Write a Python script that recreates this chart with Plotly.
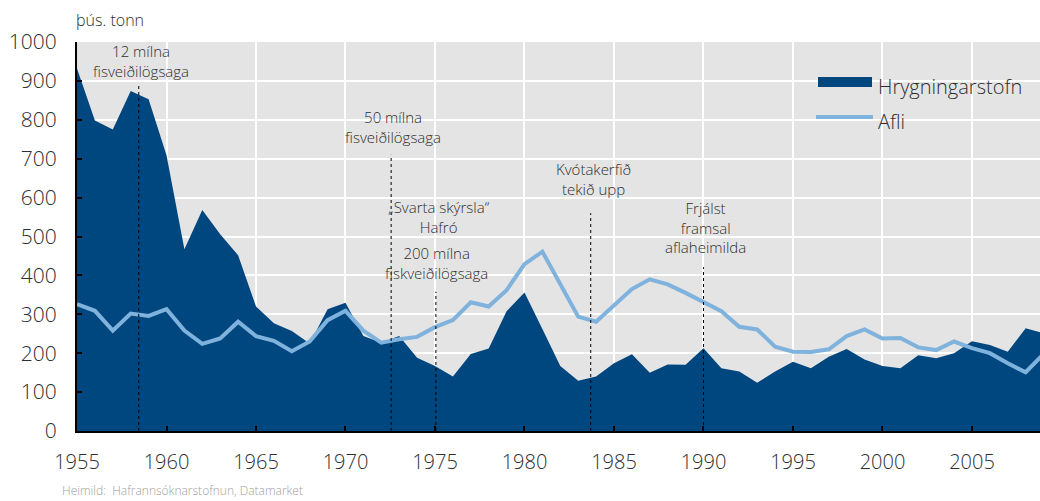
import plotly.graph_objects as go

years = list(range(1955, 2010))

hrygningarstofn = [932, 798, 775, 874, 853, 709, 467, 568, 506, 452,
                   320, 277, 257, 225, 313, 330, 244, 227, 244, 188,
                   167, 140, 198, 212, 308, 356, 262, 167, 129, 140,
                   174, 197, 150, 171, 170, 213, 161, 153, 124, 153,
                   178, 161, 191, 211, 184, 167, 161, 195, 187, 200,
                   231, 221, 204, 264, 251]

afli = [326, 309, 258, 302, 296, 313, 258, 224, 238, 281,
        244, 232, 205, 230, 285, 309, 258, 227, 236, 242,
        267, 285, 331, 320, 362, 429, 461, 380, 294, 281,
        324, 365, 390, 377, 355, 332, 308, 268, 261, 217,
        204, 203, 210, 244, 261, 238, 239, 215, 208, 230,
        213, 200, 174, 151, 198]

series_names = ["Hrygningarstofn", "Afli"]
x_ticks = [1955, 1960, 1965, 1970, 1975, 1980, 1985, 1990, 1995, 2000, 2005]
y_ticks = [0, 100, 200, 300, 400, 500, 600, 700, 800, 900, 1000]

# events: dotted line year and top value
event_years = [1958.45, 1972.55, 1975.05, 1983.7, 1990.0]
event_tops = [892, 710, 358, 560, 421]
labels = [
    ("12 mílna<br>fisveiðilögsaga", 1958.55, 952),
    ("50 mílna<br>fisveiðilögsaga", 1972.65, 781),
    ("„Svarta skýrsla“<br>Hafró", 1975.2, 550),
    ("200 mílna<br>fiskveiðilögsaga", 1975.1, 432),
    ("Kvótakerfið<br>tekið upp", 1983.85, 648),
    ("Frjálst<br>framsal<br>aflaheimilda", 1990.1, 522),
]

DARK = "#00467f"
LIGHT = "#7fb2dc"
TXT = "#2e2e2e"
FONT = "Open Sans"

W, H = 1040, 501
L, R, T, B = 77, 0, 42, 70
pw, ph = W - L - R, H - T - B


def px_to_paper(px, py):
    return (px - L) / pw, (H - B - py) / ph


fig = go.Figure()
fig.add_trace(go.Scatter(x=years, y=hrygningarstofn, name=series_names[0],
                         mode="lines", fill="tozeroy", fillcolor=DARK,
                         line=dict(width=0, color=DARK), showlegend=False))
fig.add_trace(go.Scatter(x=years, y=afli, name=series_names[1], mode="lines",
                         line=dict(width=4, color=LIGHT), showlegend=False))

shapes = []
for yr, top in zip(event_years, event_tops):
    shapes.append(dict(type="line", xref="x", yref="y", x0=yr, x1=yr, y0=0, y1=top,
                       line=dict(color="black", width=1, dash="dot")))

# custom legend symbols
rx0, ry0 = px_to_paper(818, 87)
rx1, ry1 = px_to_paper(872, 77)
shapes.append(dict(type="rect", xref="paper", yref="paper",
                   x0=rx0, x1=rx1, y0=ry0, y1=ry1,
                   fillcolor=DARK, line=dict(width=0)))
lx0, ly0 = px_to_paper(816, 117)
lx1, _ = px_to_paper(873, 117)
shapes.append(dict(type="line", xref="paper", yref="paper",
                   x0=lx0, x1=lx1, y0=ly0, y1=ly0,
                   line=dict(color=LIGHT, width=4)))

annotations = []
for text, ax, ay in labels:
    annotations.append(dict(text=text, x=ax, y=ay, xref="x", yref="y",
                            showarrow=False, xanchor="center", yanchor="middle",
                            font=dict(family=FONT, size=15, color=TXT, weight=300)))

tx, ty = px_to_paper(876, 86)
annotations.append(dict(text=series_names[0], x=tx, y=ty, xref="paper", yref="paper",
                        showarrow=False, xanchor="left", yanchor="middle",
                        font=dict(family=FONT, size=20, color=TXT, weight=300)))
tx, ty = px_to_paper(876, 121)
annotations.append(dict(text=series_names[1], x=tx, y=ty, xref="paper", yref="paper",
                        showarrow=False, xanchor="left", yanchor="middle",
                        font=dict(family=FONT, size=20, color=TXT, weight=300)))
tx, ty = px_to_paper(74, 20)
annotations.append(dict(text="þús. tonn", x=tx, y=ty, xref="paper", yref="paper",
                        showarrow=False, xanchor="left", yanchor="middle",
                        font=dict(family=FONT, size=16, color=TXT, weight=300)))
tx, ty = px_to_paper(60, 490)
annotations.append(dict(text="Heimild:  Hafrannsóknarstofnun, Datamarket",
                        x=tx, y=ty, xref="paper", yref="paper",
                        showarrow=False, xanchor="left", yanchor="middle",
                        font=dict(family=FONT, size=12, color="#a0a0a0", weight=300)))

fig.update_layout(
    width=W, height=H,
    margin=dict(l=L, r=R, t=T, b=B, pad=0, autoexpand=False),
    paper_bgcolor="white",
    plot_bgcolor="#e4e4e4",
    font=dict(family=FONT, color=TXT, weight=300),
    shapes=shapes,
    annotations=annotations,
    showlegend=False,
    xaxis=dict(range=[1955, 2008.8], tickvals=x_ticks, ticktext=[str(v) for v in x_ticks],
               showgrid=True, gridcolor="white", gridwidth=2, automargin=False,
               showline=True, linecolor="black", linewidth=2,
               ticks="inside", ticklen=5, tickwidth=2, tickcolor="black",
               tickfont=dict(family=FONT, size=20, color=TXT, weight=300),
               ticklabelstandoff=12, zeroline=False),
    yaxis=dict(range=[0, 1000], tickvals=y_ticks, ticktext=[str(v) for v in y_ticks],
               showgrid=True, gridcolor="white", gridwidth=2, automargin=False,
               showline=True, linecolor="black", linewidth=2,
               ticks="inside", ticklen=5, tickwidth=2, tickcolor="black",
               tickfont=dict(family=FONT, size=21, color=TXT, weight=300),
               ticklabelstandoff=14, zeroline=False),
)

# remove the default page margin so the figure fills the window exactly
fig.write_html("out.html",
               config={"displayModeBar": False},
               post_script="document.body.style.margin='0';document.body.style.overflow='hidden';")
